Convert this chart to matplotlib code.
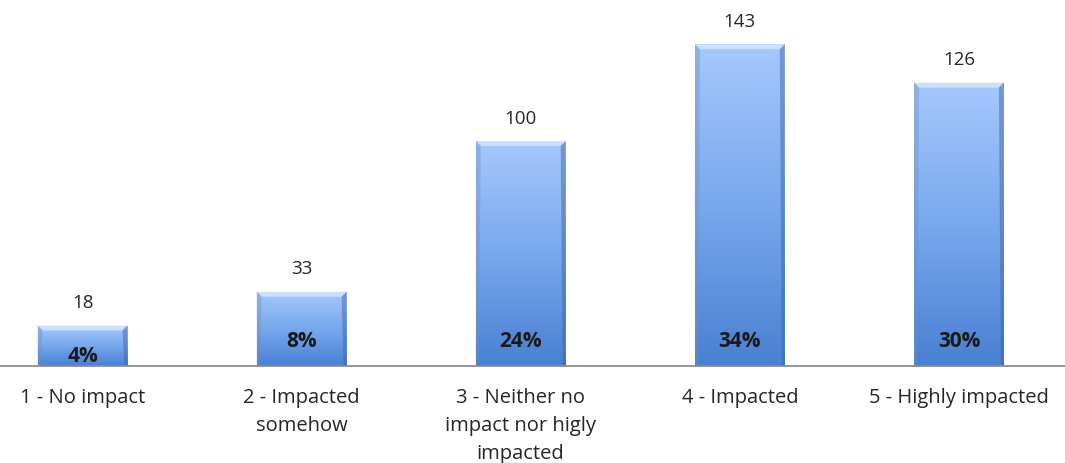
import numpy as np
import matplotlib
matplotlib.use("Agg")
import matplotlib.pyplot as plt
from matplotlib.patches import Rectangle, Polygon
from matplotlib.colors import LinearSegmentedColormap

categories = ["1 - No impact", "2 - Impacted\nsomehow", "3 - Neither no\nimpact nor higly\nimpacted",
              "4 - Impacted", "5 - Highly impacted"]
counts = [18, 33, 100, 143, 126]
percents = ["4%", "8%", "24%", "34%", "30%"]

W, H = 1065, 463
fig = plt.figure(figsize=(W / 100, H / 100), dpi=100)
left_px, right_px = -27, 1068.5
base_px = 366
top_px = 6
ax = fig.add_axes([left_px / W, (H - base_px) / H, (right_px - left_px) / W, (base_px - top_px) / H])
ymax = 160
ax.set_xlim(-0.5, len(categories) - 0.5)
ax.set_ylim(0, ymax)
for s in ["top", "right", "left"]:
    ax.spines[s].set_visible(False)
ax.spines["bottom"].set_color("#8c8c8c")
ax.spines["bottom"].set_linewidth(1.3)
ax.spines["bottom"].set_zorder(5)
ax.set_yticks([])
ax.set_xticks(range(len(categories)))
ax.set_xticklabels(categories, fontsize=14.5, color="#262626", family="Open Sans",
                   linespacing=1.52)
ax.tick_params(axis="x", length=0, pad=16)

# pixel -> data conversions
xu = (right_px - left_px) / len(categories)  # px per x unit
yu = (base_px - top_px) / ymax               # px per y unit
bev_x = 5 / xu
bev_y = 5 / yu
side = 3 / xu

cmap = LinearSegmentedColormap.from_list("b", ["#4a80d2", "#78a8ee", "#a6c8fc"])
bw = 0.41
grad = np.linspace(0, 1, 256).reshape(-1, 1)
for i, (c, p) in enumerate(zip(counts, percents)):
    x0 = i - bw / 2
    x1 = x0 + bw
    im = ax.imshow(grad, extent=[x0, x1, 0, c], origin="lower", cmap=cmap,
                   aspect="auto", zorder=2)
    rect = Rectangle((x0, 0), bw, c, facecolor="none", edgecolor="none")
    ax.add_patch(rect)
    im.set_clip_path(rect)
    # bevel: top light trapezoid
    ax.add_patch(Polygon([(x0, c), (x1, c), (x1 - bev_x, c - bev_y), (x0 + bev_x, c - bev_y)],
                         closed=True, facecolor="#d4e5ff", edgecolor="none", alpha=0.85, zorder=3))
    # sides
    ax.add_patch(Polygon([(x0, 0), (x0, c), (x0 + bev_x, c - bev_y), (x0 + side, 0)],
                         closed=True, facecolor="#6f8fc0", edgecolor="none", alpha=0.4, zorder=3))
    ax.add_patch(Polygon([(x1, 0), (x1, c), (x1 - bev_x, c - bev_y), (x1 - side, 0)],
                         closed=True, facecolor="#3c5f9c", edgecolor="none", alpha=0.45, zorder=3))
    ax.text(i, c + 6, str(c), ha="center", va="bottom", fontsize=13.5, color="#262626",
            family="Open Sans")
    py = 10.7 if c > 25 else 4.2
    ax.text(i, py, p, ha="center", va="center", fontsize=15, fontweight="bold",
            color="#1a1a1a", family="Open Sans", zorder=4)
ax.set_xlim(-0.5, len(categories) - 0.5)
ax.set_ylim(0, ymax)
fig.savefig("out.png", dpi=100)
